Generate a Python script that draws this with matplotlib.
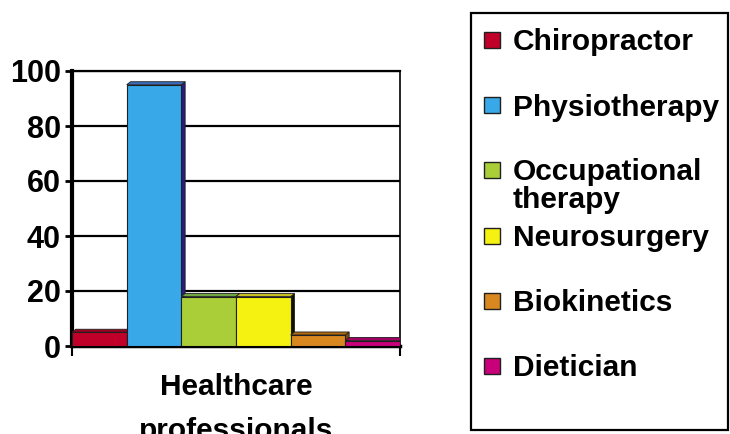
import matplotlib
matplotlib.use("Agg")
import matplotlib.pyplot as plt
from matplotlib.patches import Polygon, Rectangle
import numpy as np

plt.rcParams['font.family'] = ['Liberation Sans', 'DejaVu Sans']
plt.rcParams['font.weight'] = 'bold'

categories = ['Chiropractor', 'Physiotherapy', 'Occupational\ntherapy',
              'Neurosurgery', 'Biokinetics', 'Dietician']
values = [5, 95, 18, 18, 4, 2]
colors = ['#C00028', '#38A8E8', '#AACE38', '#F5F212', '#D98820', '#C8007A']
top_colors = ['#9A0020', '#3A6CC0', '#6FA840', '#C8C020', '#B06A10', '#A00060']
side_colors = ['#700018', '#2D1A7A', '#4A7A20', '#101000', '#7A4808', '#700048']
yticks = [0, 20, 40, 60, 80, 100]
xlabel = 'Healthcare\nprofessionals'

W, H = 730, 434
LINE = 27.4  # pixel height of one text line at 21.5pt, linespacing 1
fig = plt.figure(figsize=(7.3, 4.34), dpi=100)
ax = fig.add_axes([72 / W, 1 - 346 / H, 328 / W, 275 / H])

n = len(values)
x = np.arange(n) + 0.5
dx, dy = 0.07, 1.1  # depth of the fake 3d look, in data units

for i, (xc, v) in enumerate(zip(x, values)):
    z = 3 + i
    l, r = xc - 0.5, xc + 0.5
    side = Polygon([[r, 0], [r + dx, dy], [r + dx, v + dy], [r, v]],
                   closed=True, facecolor=side_colors[i], edgecolor='#202020',
                   linewidth=0.6, zorder=z)
    top = Polygon([[l, v], [l + dx, v + dy], [r + dx, v + dy], [r, v]],
                  closed=True, facecolor=top_colors[i], edgecolor='#202020',
                  linewidth=0.6, zorder=z)
    ax.add_patch(side)
    ax.add_patch(top)
    ax.bar(xc, v, width=1.0, color=colors[i], edgecolor='#202020',
           linewidth=0.8, zorder=z + 0.5)

ax.set_xlim(0, n)
ax.set_ylim(0, 100)
ax.set_yticks(yticks)
ax.set_yticklabels([str(t) for t in yticks], fontsize=22, fontweight='bold')
ax.set_xticks([0, n])
ax.set_xticklabels([])
ax.tick_params(axis='y', length=5, width=2, pad=3, direction='out')
ax.tick_params(axis='x', length=7, width=1.5, direction='out')
ax.yaxis.grid(True, color='black', linewidth=1.6, zorder=1)
ax.set_axisbelow(True)

ax.spines['left'].set_linewidth(3)
ax.spines['bottom'].set_linewidth(2.5)
ax.spines['top'].set_linewidth(1.6)
ax.spines['right'].set_linewidth(1.2)

# xlabel: first baseline near y=392 px, second line mostly cut off
# (va='baseline' on multi-line text aligns the last line)
fig.text(236 / W, 1 - (392 + 1.7 * LINE) / H, xlabel, fontsize=21.5,
         fontweight='bold', ha='center', va='baseline', linespacing=1.7)

# legend box drawn by hand so the two-line entry keeps the even spacing
frame = Rectangle((471 / W, 1 - 430 / H), (728 - 471) / W, (430 - 13) / H,
                  transform=fig.transFigure, facecolor='white',
                  edgecolor='black', linewidth=1.6)
fig.add_artist(frame)
for i, (lab, c) in enumerate(zip(categories, colors)):
    cy = 40 + i * 65.2
    sq = Rectangle((484 / W, 1 - (cy + 8) / H), 16 / W, 16 / H,
                   transform=fig.transFigure, facecolor=c,
                   edgecolor='#202020', linewidth=1)
    fig.add_artist(sq)
    extra = lab.count('\n') * LINE
    fig.text(513 / W, 1 - (cy + 10.5 + extra) / H, lab, fontsize=21.5,
             fontweight='bold', va='baseline', ha='left', linespacing=1.0)

fig.savefig('out.png', dpi=100)
